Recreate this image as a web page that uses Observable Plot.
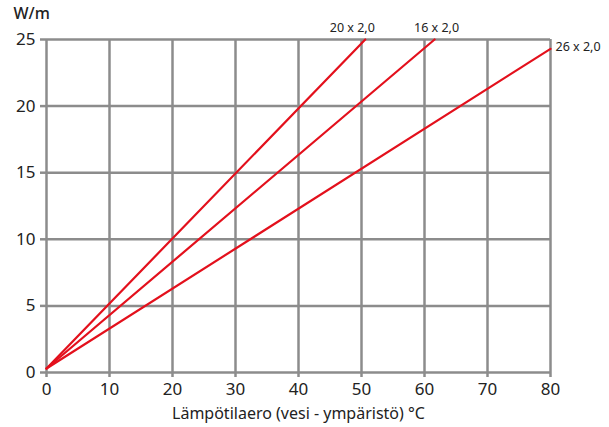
<!DOCTYPE html>
<html><head><meta charset="utf-8">
<script src="https://cdn.jsdelivr.net/npm/d3@7"></script>
<script src="https://cdn.jsdelivr.net/npm/@observablehq/plot@0.6"></script>
<style>body{margin:0;background:#fff}</style>
</head><body><div id="chart"></div>
<script>
const series = ["20 x 2,0", "16 x 2,0", "26 x 2,0"];
const startX = [0, 0, 0];
const startY = [0.3, 0.3, 0.3];
const endX = [50.6, 61.6, 80];
const endY = [25, 25, 24.3];
const xTicks = [0, 10, 20, 30, 40, 50, 60, 70, 80];
const yTicks = [0, 5, 10, 15, 20, 25];
const yUnit = "W/m";
const xTitle = "Lämpötilaero (vesi - ympäristö) °C";

const pts = series.flatMap((s, i) => [
  {s, x: startX[i], y: startY[i]},
  {s, x: endX[i], y: endY[i]}
]);
const ends = series.map((s, i) => ({s, x: endX[i], y: endY[i]}));
const grid = "#8c8c8c";
const font = "Noto Sans, sans-serif";
const lab = {x: "x", y: "y", text: "s", fontSize: 12.5, fill: "#222", fontFamily: font, lineAnchor: "middle"};

const chart = Plot.plot({
  width: 609, height: 427,
  marginLeft: 46, marginRight: 59, marginTop: 39, marginBottom: 55,
  style: {fontFamily: font, background: "#fff"},
  x: {domain: [0, 80]},
  y: {domain: [0, 25]},
  marks: [
    Plot.gridX(xTicks, {stroke: grid, strokeOpacity: 1, strokeWidth: 2.5}),
    Plot.gridY(yTicks, {stroke: grid, strokeOpacity: 1, strokeWidth: 2.5}),
    Plot.axisX(xTicks, {stroke: grid, strokeWidth: 2.5, fill: "#222", tickSize: 5, tickPadding: 5, fontSize: 17, label: null}),
    Plot.axisY(yTicks, {stroke: grid, strokeWidth: 2.5, fill: "#222", tickSize: 6, tickPadding: 5, fontSize: 17, label: null}),
    Plot.line(pts, {x: "x", y: "y", z: "s", stroke: "#e3101c", strokeWidth: 2.2}),
    Plot.text(ends.slice(0, 1), {...lab, dx: -13, dy: -12, textAnchor: "middle"}),
    Plot.text(ends.slice(1, 2), {...lab, dx: 2, dy: -12, textAnchor: "middle"}),
    Plot.text(ends.slice(2), {...lab, dx: 5, dy: -2, textAnchor: "start"}),
    Plot.text([yUnit], {text: d => d, frameAnchor: "top-left", dx: -33, dy: -26, textAnchor: "start", lineAnchor: "middle", fontSize: 16, fontWeight: 500, fill: "#222"}),
    Plot.text([xTitle], {text: d => d, frameAnchor: "bottom", dy: 41, lineAnchor: "middle", fontSize: 16, fill: "#222"})
  ]
});
document.getElementById("chart").appendChild(chart);
</script>
</body></html>
